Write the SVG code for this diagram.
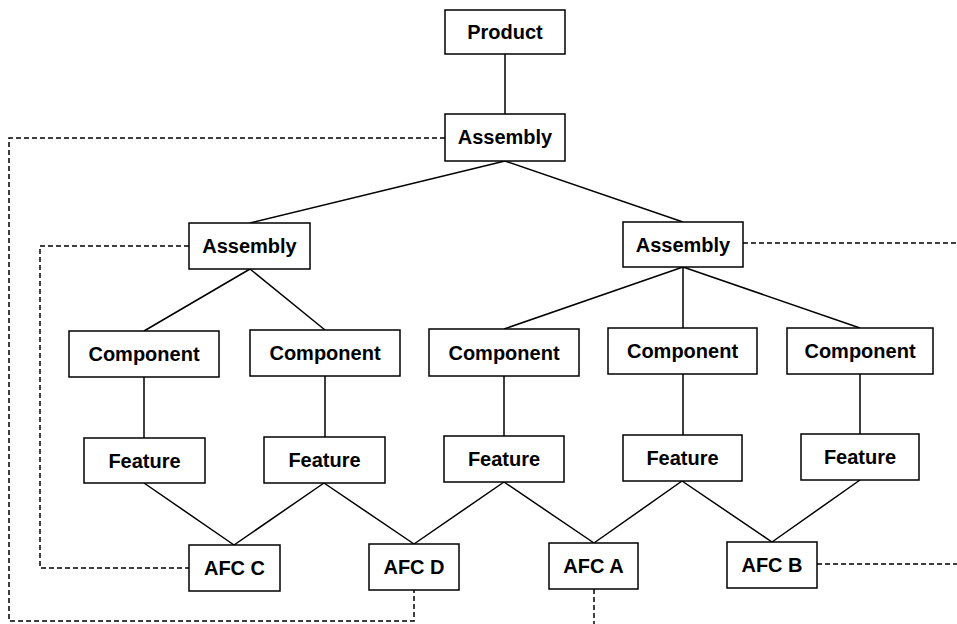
<svg xmlns="http://www.w3.org/2000/svg" width="957" height="624" viewBox="0 0 957 624">
<style>
rect{fill:#fff;stroke:#000;stroke-width:1.5}
text{font-family:"Liberation Sans",Arial,sans-serif;font-weight:bold;font-size:20px;text-anchor:middle;fill:#000}
.s{stroke:#000;stroke-width:1.5;fill:none}
.d{stroke:#000;stroke-width:1.5;fill:none;stroke-dasharray:5 3}
</style>
<rect x="0" y="0" width="957" height="624" style="fill:#fff;stroke:none"/>
<g id="connectors">
<path class="s" d="M505,54V114"/>
<path class="s" d="M505,161L250,223M505,161L683,222"/>
<path class="s" d="M250,269L144,331M250,269L325,330"/>
<path class="s" d="M683,267L504,329M683,267L683,328M683,267L860,328"/>
<path class="s" d="M144,377V438M325,376V437M504,376V436M683,374V435M860,374V434"/>
<path class="s" d="M144,483L234,545M324,483L234,545M324,483L414,544M504,482L414,544M504,482L594,543M682,481L594,543M682,481L772,542M860,480L772,542"/>
<path class="d" d="M445,138H9V621H414V590"/>
<path class="d" d="M189,246H40V568H189"/>
<path class="d" d="M743,243H957"/>
<path class="d" d="M817,564H957"/>
<path class="d" d="M594,589V624"/>
</g>
<g id="product"><rect x="445" y="10" width="120" height="44"/><text x="505" y="39">Product</text></g>
<g id="assembly-top"><rect x="445" y="114" width="120" height="47"/><text x="505" y="144">Assembly</text></g>
<g id="assembly-left"><rect x="189" y="223" width="121" height="46"/><text x="249.5" y="253">Assembly</text></g>
<g id="assembly-right"><rect x="623" y="222" width="120" height="45"/><text x="683" y="251.5">Assembly</text></g>
<g id="component-1"><rect x="69" y="331" width="150" height="46"/><text x="144" y="361">Component</text></g>
<g id="component-2"><rect x="250" y="330" width="150" height="46"/><text x="325" y="360">Component</text></g>
<g id="component-3"><rect x="429" y="329" width="150" height="47"/><text x="504" y="359.5">Component</text></g>
<g id="component-4"><rect x="608" y="328" width="149" height="46"/><text x="682.5" y="358">Component</text></g>
<g id="component-5"><rect x="787" y="328" width="146" height="46"/><text x="860" y="358">Component</text></g>
<g id="feature-1"><rect x="84" y="438" width="121" height="45"/><text x="144.5" y="467.5">Feature</text></g>
<g id="feature-2"><rect x="264" y="437" width="121" height="46"/><text x="324.5" y="467">Feature</text></g>
<g id="feature-3"><rect x="444" y="436" width="120" height="46"/><text x="504" y="466">Feature</text></g>
<g id="feature-4"><rect x="623" y="435" width="119" height="46"/><text x="682.5" y="465">Feature</text></g>
<g id="feature-5"><rect x="801" y="434" width="118" height="46"/><text x="860" y="464">Feature</text></g>
<g id="afc-c"><rect x="189" y="545" width="91" height="46"/><text x="234.5" y="575">AFC C</text></g>
<g id="afc-d"><rect x="369" y="544" width="90" height="46"/><text x="414" y="574">AFC D</text></g>
<g id="afc-a"><rect x="549" y="543" width="89" height="46"/><text x="593.5" y="573">AFC A</text></g>
<g id="afc-b"><rect x="727" y="542" width="90" height="46"/><text x="772" y="572">AFC B</text></g>
</svg>
